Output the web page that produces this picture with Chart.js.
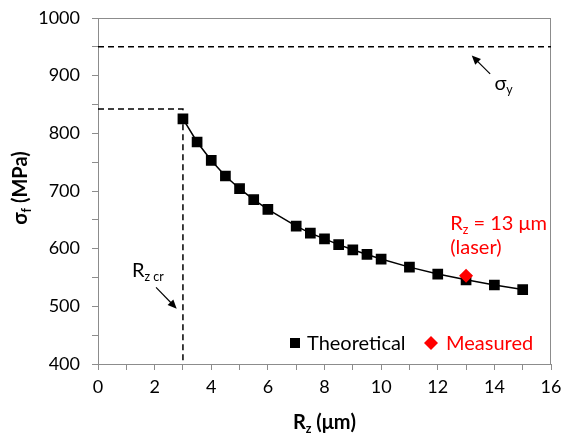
<!DOCTYPE html>
<html><head><meta charset="utf-8">
<script src="https://cdn.jsdelivr.net/npm/chart.js@4/dist/chart.umd.min.js"></script>
<style>html,body{margin:0;padding:0;background:#fff}</style>
</head><body>
<canvas id="c" width="564" height="435" style="width:564px;height:435px;display:block"></canvas>
<script>
// ---- data ----
const roughness   = [3, 3.5, 4, 4.5, 5, 5.5, 6, 7, 7.5, 8, 8.5, 9, 9.5, 10, 11, 12, 13, 14, 15];
const theoretical = [825, 785, 753, 726, 704, 685, 668, 639, 627, 617, 607, 598, 590, 582, 568, 556, 546, 537, 529];
const measuredRz = [13];
const measuredStress = [553];
const yieldStress = 950;
const criticalRz = 3;
const criticalStress = 842;
const xTickLabels = ['0','2','4','6','8','10','12','14','16'];
const yTickLabels = ['400','500','600','700','800','900','1000'];
const seriesNames = ['Theoretical', 'Measured'];

const FONT = 'Lato, "Open Sans", sans-serif';
const GREY = '#8c8c8c';
const RED = '#ff0000';

function pts(xs, ys){ return xs.map((x,i)=>({x:x, y:ys[i]})); }

function richText(ctx, parts, x, y, size, weight, color, align){
  ctx.save();
  ctx.fillStyle = color;
  ctx.textBaseline = 'alphabetic';
  ctx.textAlign = 'left';
  let total = 0;
  const widths = parts.map(p=>{
    ctx.font = weight + ' ' + (p[1] ? size*0.62 : size) + 'px ' + FONT;
    const w = ctx.measureText(p[0]).width; total += w; return w;
  });
  let cx = align === 'center' ? x - total/2 : (align === 'right' ? x - total : x);
  parts.forEach((p,i)=>{
    ctx.font = weight + ' ' + (p[1] ? size*0.62 : size) + 'px ' + FONT;
    ctx.fillText(p[0], cx, p[1] ? y + size*0.22 : y);
    cx += widths[i];
  });
  ctx.restore();
}

function arrow(ctx, x1, y1, x2, y2){
  const a = Math.atan2(y2-y1, x2-x1), L = 9, W = 4;
  ctx.save();
  ctx.strokeStyle = '#000'; ctx.fillStyle = '#000'; ctx.lineWidth = 1.2;
  ctx.beginPath(); ctx.moveTo(x1,y1);
  ctx.lineTo(x2 - L*0.8*Math.cos(a), y2 - L*0.8*Math.sin(a)); ctx.stroke();
  ctx.beginPath();
  ctx.moveTo(x2, y2);
  ctx.lineTo(x2 - L*Math.cos(a) + W*Math.sin(a), y2 - L*Math.sin(a) - W*Math.cos(a));
  ctx.lineTo(x2 - L*Math.cos(a) - W*Math.sin(a), y2 - L*Math.sin(a) + W*Math.cos(a));
  ctx.closePath(); ctx.fill();
  ctx.restore();
}

const decor = {
  id: 'decor',
  beforeDatasetsDraw(chart){
    const {ctx, chartArea:a} = chart;
    ctx.save();
    ctx.strokeStyle = GREY; ctx.lineWidth = 1;
    ctx.strokeRect(a.left+0.5, a.top+0.5, a.right-a.left-1, a.bottom-a.top);
    ctx.restore();
  },
  afterDatasetsDraw(chart){
    const {ctx, chartArea:a, scales} = chart;
    const X = v => scales.x.getPixelForValue(v), Y = v => scales.y.getPixelForValue(v);
    // sigma_y annotation
    arrow(ctx, X(13.85), Y(903), X(13.2), Y(935));
    richText(ctx, [['σ',false],['y',true]], X(14.0), Y(876), 20, 'normal', '#000', 'left');
    // Rz cr annotation
    richText(ctx, [['R',false],['z cr',true]], X(1.2), Y(551), 20, 'normal', '#000', 'left');
    arrow(ctx, X(2.05), Y(533), X(2.78), Y(496));
    // measured annotation
    richText(ctx, [['R',false],['z',true],[' = 13 μm',false]], X(12.44), Y(633), 20, 'normal', RED, 'left');
    richText(ctx, [['(laser)',false]], X(12.44), Y(590), 20, 'normal', RED, 'left');
    // legend
    const ly = a.bottom - 21;
    ctx.save();
    ctx.fillStyle = '#000';
    ctx.fillRect(290, ly-5, 10, 10);
    ctx.fillStyle = RED;
    ctx.beginPath();
    ctx.moveTo(431, ly-7); ctx.lineTo(438, ly); ctx.lineTo(431, ly+7); ctx.lineTo(424, ly);
    ctx.closePath(); ctx.fill();
    ctx.font = '20px ' + FONT; ctx.textBaseline = 'middle'; ctx.textAlign = 'left';
    ctx.fillStyle = '#000'; ctx.fillText(seriesNames[0], 307, ly+1);
    ctx.fillStyle = RED; ctx.fillText(seriesNames[1], 446, ly+1);
    ctx.restore();
    // axis titles
    richText(ctx, [['R',false],['z',true],[' (μm)',false]], (a.left+a.right)/2, 429, 20, 'bold', '#000', 'center');
    ctx.save();
    ctx.translate(27, 188);
    ctx.rotate(-Math.PI/2);
    richText(ctx, [['σ',false],['f',true],[' (MPa)',false]], 0, 0, 20, 'bold', '#000', 'center');
    ctx.restore();
  }
};

Chart.defaults.font.family = FONT;
new Chart(document.getElementById('c'), {
  type: 'scatter',
  data: {
    datasets: [
      { label: seriesNames[1], data: pts(measuredRz, measuredStress), pointStyle: 'rectRot',
        pointRadius: 7, pointHoverRadius: 7, backgroundColor: RED, borderColor: RED, borderWidth: 0, order: 0 },
      { label: seriesNames[0], data: pts(roughness, theoretical), showLine: true, pointStyle: 'rect',
        pointRadius: 6.5, pointHoverRadius: 6.5, backgroundColor: '#000', borderColor: '#000', borderWidth: 1.5, order: 1 },
      { label: 'yield', data: [{x:0, y:yieldStress}, {x:16, y:yieldStress}], showLine: true, pointRadius: 0,
        borderColor: '#000', borderWidth: 1.5, borderDash: [6,4], order: 2 },
      { label: 'critical', data: [{x:0, y:criticalStress}, {x:criticalRz, y:criticalStress}, {x:criticalRz, y:400}],
        showLine: true, pointRadius: 0, borderColor: '#000', borderWidth: 1.5, borderDash: [6,4], order: 2 }
    ]
  },
  options: {
    responsive: false, animation: false, devicePixelRatio: 1,
    layout: { autoPadding: false, padding: { left: 0, right: 13, top: 18, bottom: 0 } },
    plugins: { legend: { display: false }, tooltip: { enabled: false } },
    scales: {
      x: {
        type: 'linear', min: 0, max: 16,
        afterFit(s){ s.height = 71; s.paddingLeft = 0; s.paddingRight = 0; },
        afterBuildTicks(s){ s.ticks = Array.from({length:17}, (_,i)=>({value:i})); },
        ticks: { autoSkip: false, maxRotation: 0, padding: 6, color: '#000', font: { size: 18 },
          callback(v){ return v % 2 === 0 ? xTickLabels[v/2] : ''; } },
        grid: { drawOnChartArea: false, color: GREY, tickLength: 6 },
        border: { color: GREY }
      },
      y: {
        type: 'linear', min: 400, max: 1000,
        afterFit(s){ s.width = 98; s.paddingTop = 0; s.paddingBottom = 0; },
        afterBuildTicks(s){ s.ticks = Array.from({length:13}, (_,i)=>({value:400+50*i})); },
        ticks: { autoSkip: false, padding: 12, color: '#000', font: { size: 18 },
          callback(v){ return v % 100 === 0 ? yTickLabels[(v-400)/100] : ''; } },
        grid: { drawOnChartArea: false, color: GREY, tickLength: 6 },
        border: { color: GREY }
      }
    }
  },
  plugins: [decor]
});
</script>
</body></html>
